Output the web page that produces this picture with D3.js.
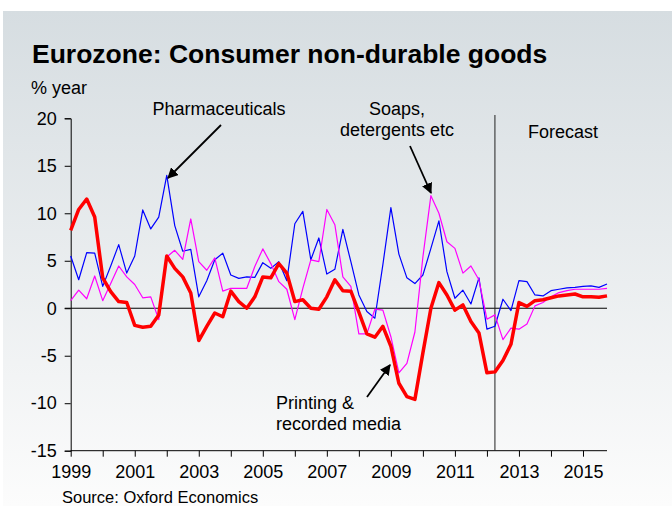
<!DOCTYPE html>
<html>
<head>
<meta charset="utf-8">
<script src="https://cdn.jsdelivr.net/npm/d3@7"></script>
<style>
  html, body { margin: 0; padding: 0; background: #fff; }
  svg { display: block; font-family: "Liberation Sans", Arial, sans-serif; }
</style>
</head>
<body>
<div id="chart"></div>
<script>
// quarterly data, 1999Q1 .. 2015Q4
const startYear = 1999;
const pharma = [5.5, 3.0, 5.85, 5.8, 2.3, 4.45, 6.7, 3.7, 5.5, 10.35, 8.35, 9.6, 14.0, 8.7, 6.0, 6.2,
    1.2, 2.9, 5.1, 5.8, 3.5, 3.15, 3.3, 3.25, 4.8, 4.2, 4.9, 2.9, 8.9, 10.2, 5.1, 7.4,
    3.6, 4.1, 8.3, 4.9, 1.4, -0.35, -1.05, 4.6, 10.6, 5.7, 3.2, 2.6, 3.5, 6.3, 9.2, 3.85,
    1.05, 1.9, 0.45, 3.2, -2.2, -1.9, 0.95, -0.25, 2.9, 2.8, 1.4, 1.3, 1.85, 2.0, 2.15, 2.2,
    2.3, 2.35, 2.2, 2.55];
const soaps = [0.8, 1.9, 1.0, 3.4, 0.8, 2.6, 4.45, 3.3, 2.5, 1.1, 1.2, -1.2, 5.4, 6.1, 5.15, 9.4,
    4.9, 4.0, 5.3, 1.8, 2.1, 2.1, 2.1, 4.4, 6.25, 4.7, 2.8, 2.0, -1.2, 2.1, 5.1, 4.9,
    10.4, 8.8, 3.3, 2.3, -2.7, -2.7, -0.1, -0.2, -3.0, -6.8, -5.8, -2.5, 5.4, 11.85, 10.0, 7.0,
    6.3, 3.7, 4.45, 3.0, -1.15, -0.7, -3.3, -2.1, -2.2, -1.65, 0.25, 0.6, 1.2, 1.65, 1.85, 2.0,
    2.0, 2.0, 2.0, 2.1];
const printing = [8.2, 10.4, 11.5, 9.6, 3.2, 1.75, 0.7, 0.6, -1.8, -2.0, -1.9, -0.7, 5.5, 4.2, 3.3, 1.6,
    -3.4, -1.9, -0.5, -0.9, 1.8, 0.7, 0.0, 1.2, 3.3, 3.2, 4.7, 3.7, 0.7, 0.9, 0.0, -0.1,
    1.2, 3.0, 1.85, 1.8, -0.4, -2.7, -3.05, -1.9, -4.0, -7.9, -9.3, -9.6, -4.7, 0.0, 2.7, 1.4,
    -0.2, 0.35, -1.4, -2.6, -6.8, -6.7, -5.5, -3.8, 0.6, 0.2, 0.8, 0.9, 1.1, 1.3, 1.4, 1.5,
    1.2, 1.2, 1.15, 1.3];
const yTicks = [-15, -10, -5, 0, 5, 10, 15, 20];
const yearTicks = d3.range(1999, 2016);
const yearLabels = [1999, 2001, 2003, 2005, 2007, 2009, 2011, 2013, 2015];
const forecastStart = 2012.25;

const width = 672, height = 506;
const svg = d3.select('#chart').append('svg')
    .attr('width', width)
    .attr('height', height);

// background gradient
const grad = svg.append('defs').append('linearGradient')
    .attr('id', 'bg').attr('x1', 0).attr('y1', 0).attr('x2', 0).attr('y2', 1);
grad.append('stop').attr('offset', '0%').attr('stop-color', '#d6dde1');
grad.append('stop').attr('offset', '100%').attr('stop-color', '#fcfcfc');
svg.append('rect')
    .attr('x', 3).attr('y', 11)
    .attr('width', width - 3).attr('height', height - 11)
    .attr('fill', 'url(#bg)');

const x = d3.scaleLinear().domain([1999, 2015.75]).range([70.7, 607]);
const y = d3.scaleLinear().domain([-15, 20]).range([450.7, 118.3]);
const qx = (d, i) => x(startYear + i / 4);

// titles
svg.append('text')
    .attr('x', 32).attr('y', 63)
    .attr('font-size', 26.5).attr('font-weight', 'bold')
    .attr('fill', '#000')
    .text('Eurozone: Consumer non-durable goods');
svg.append('text')
    .attr('x', 31).attr('y', 94)
    .attr('font-size', 18)
    .text('% year');
svg.append('text')
    .attr('x', 62).attr('y', 503)
    .attr('font-size', 16.5)
    .text('Source: Oxford Economics');

// y axis
const yAxis = svg.append('g')
    .attr('transform', 'translate(70.7,0)')
    .call(d3.axisLeft(y).tickValues(yTicks).tickSize(6).tickPadding(8)
        .tickFormat(d => String(d)));
yAxis.select('.domain').attr('stroke', '#000');
yAxis.selectAll('text').attr('font-size', 18).attr('fill', '#000')
    .attr('font-family', '"Liberation Sans", Arial, sans-serif');

// x axis
const xAxis = svg.append('g')
    .attr('transform', `translate(0,${y(-15)})`)
    .call(d3.axisBottom(x)
        .tickValues(yearTicks)
        .tickSize(6)
        .tickPadding(9)
        .tickFormat(d => yearLabels.includes(d) ? String(d) : ''));
xAxis.select('.domain').attr('stroke', '#000').attr('d', `M${x(1999)},0H${x(2015.75)}`);
xAxis.selectAll('text').attr('font-size', 18).attr('fill', '#000')
    .attr('font-family', '"Liberation Sans", Arial, sans-serif');

// zero line
svg.append('line')
    .attr('x1', x(1999) - 6).attr('x2', x(2015.75))
    .attr('y1', y(0)).attr('y2', y(0))
    .attr('stroke', '#000').attr('stroke-width', 1);

// forecast divider
svg.append('line')
    .attr('x1', x(forecastStart)).attr('x2', x(forecastStart))
    .attr('y1', 115).attr('y2', y(-15))
    .attr('stroke', '#222').attr('stroke-width', 1);
svg.append('text')
    .attr('x', 528).attr('y', 138)
    .attr('font-size', 18)
    .text('Forecast');

// series
const line = d3.line().x(qx).y(d => y(d));
const series = [
    { data: pharma, color: '#0000ff', w: 1.2 },
    { data: soaps, color: '#ff00ff', w: 1.2 },
    { data: printing, color: '#ff0000', w: 3.5 }
];
series.forEach(s => {
    svg.append('path')
        .datum(s.data)
        .attr('d', line)
        .attr('fill', 'none')
        .attr('stroke', s.color)
        .attr('stroke-width', s.w)
        .attr('stroke-linejoin', 'round');
});

// annotations
svg.append('defs').append('marker')
    .attr('id', 'arrow')
    .attr('viewBox', '0 0 10 10')
    .attr('refX', 9).attr('refY', 5)
    .attr('markerWidth', 6).attr('markerHeight', 6)
    .attr('orient', 'auto')
    .append('path').attr('d', 'M0,0L10,5L0,10z').attr('fill', '#000');

const notes = [
    { lines: ['Pharmaceuticals'], x: 219, y: 115, anchor: 'middle', from: [221, 125], to: [168, 178] },
    { lines: ['Soaps,', 'detergents etc'], x: 397, y: 115, anchor: 'middle', from: [410, 146], to: [431, 193] },
    { lines: ['Printing &', 'recorded media'], x: 276, y: 409, anchor: 'start', from: [367, 397], to: [390, 365] }
];
notes.forEach(n => {
    const t = svg.append('text')
        .attr('x', n.x).attr('y', n.y)
        .attr('font-size', 18)
        .attr('text-anchor', n.anchor);
    n.lines.forEach((l, i) => {
        t.append('tspan').attr('x', n.x).attr('dy', i === 0 ? 0 : 21).text(l);
    });
    svg.append('line')
        .attr('x1', n.from[0]).attr('y1', n.from[1])
        .attr('x2', n.to[0]).attr('y2', n.to[1])
        .attr('stroke', '#000').attr('stroke-width', 1.8)
        .attr('marker-end', 'url(#arrow)');
});
</script>
</body>
</html>
